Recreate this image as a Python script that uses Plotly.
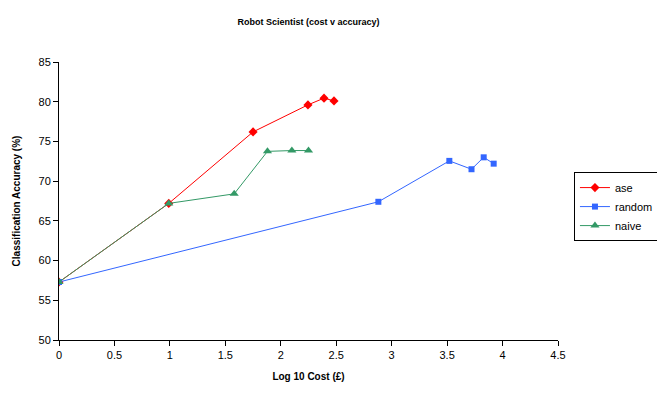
import plotly.graph_objects as go

ase_x = [0, 0.99, 1.75, 2.245, 2.39, 2.48]
ase_y = [57.3, 67.2, 76.2, 79.6, 80.45, 80.1]
random_x = [0, 2.88, 3.52, 3.72, 3.83, 3.92]
random_y = [57.3, 67.4, 72.55, 71.5, 73.0, 72.2]
naive_x = [0, 0.99, 1.58, 1.88, 2.1, 2.25]
naive_y = [57.3, 67.2, 68.4, 73.75, 73.85, 73.85]

x_ticks = [0, 0.5, 1, 1.5, 2, 2.5, 3, 3.5, 4, 4.5]
x_tick_labels = ["0", "0.5", "1", "1.5", "2", "2.5", "3", "3.5", "4", "4.5"]
y_ticks = [50, 55, 60, 65, 70, 75, 80, 85]

font = "Liberation Sans, Arial, sans-serif"

fig = go.Figure()
fig.add_trace(go.Scatter(x=ase_x, y=ase_y, name="ase", mode="lines+markers",
                         line=dict(color="#FF0000", width=1),
                         marker=dict(symbol="diamond", size=7, color="#FF0000")))
fig.add_trace(go.Scatter(x=random_x, y=random_y, name="random", mode="lines+markers",
                         line=dict(color="#3366FF", width=1),
                         marker=dict(symbol="square", size=6, color="#3366FF")))
fig.add_trace(go.Scatter(x=naive_x, y=naive_y, name="naive", mode="lines+markers",
                         line=dict(color="#339966", width=1),
                         marker=dict(symbol="triangle-up", size=8, color="#339966")))

fig.update_layout(
    width=657, height=404,
    margin=dict(l=59, r=99, t=62, b=64, autoexpand=False),
    paper_bgcolor="white", plot_bgcolor="white",
    font=dict(family=font, size=11, color="black"),
    title=dict(text="<b>Robot Scientist (cost v accuracy)</b>", x=0.5, xref="paper",
               y=1 - 22 / 404, yanchor="middle", font=dict(size=9, family=font)),
    xaxis=dict(range=[0, 4.5], tickvals=x_ticks, ticktext=x_tick_labels,
               showgrid=False, zeroline=False, showline=True, linecolor="black", linewidth=1,
               ticks="outside", ticklen=5, tickcolor="black",
               title=dict(text="<b>Log 10 Cost (£)</b>", font=dict(size=10), standoff=12)),
    yaxis=dict(range=[50, 85], tickvals=y_ticks,
               showgrid=False, zeroline=False, showline=True, linecolor="black", linewidth=1,
               ticks="outside", ticklen=5, tickcolor="black",
               title=dict(text="<b>Classification Accuracy (%)</b>", font=dict(size=10), standoff=16)),
    legend=dict(x=1.032, y=0.604, xanchor="left", yanchor="top",
                bordercolor="black", borderwidth=1, bgcolor="white",
                font=dict(size=11), tracegroupgap=0, itemwidth=30),
    showlegend=True,
)

fig.write_html("out.html", config={"displayModeBar": False},
               post_script="document.body.style.margin='0';")
